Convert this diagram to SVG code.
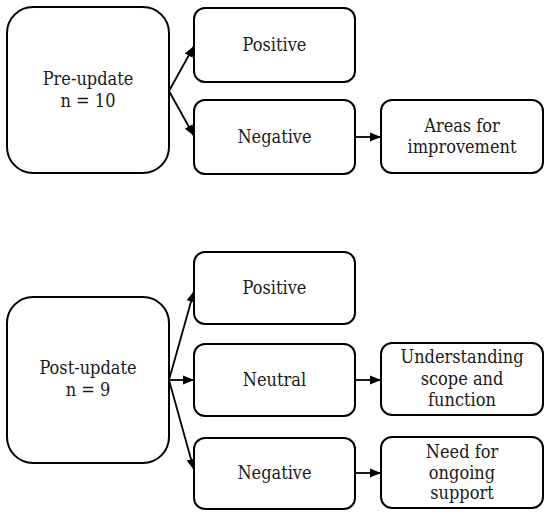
<svg xmlns="http://www.w3.org/2000/svg" width="550" height="516" viewBox="0 0 550 516">
<style>
.box{fill:#fff;stroke:#000;stroke-width:2}
.t{font-family:'DejaVu Serif Condensed','DejaVu Serif',serif;font-size:18px;fill:#1a1a1a;text-anchor:middle}
.c{stroke:#000;stroke-width:1.8;fill:none;marker-end:url(#ah)}
</style>
<defs>
<marker id="ah" viewBox="0 0 11 10" refX="11" refY="5" markerWidth="11" markerHeight="10" markerUnits="userSpaceOnUse" orient="auto">
<path d="M0,0.5 L11,5 L0,9.5 Z" fill="#000"/>
</marker>
</defs>
<rect width="550" height="516" fill="#fff"/>
<g id="connectors">
<line class="c" x1="169" y1="91" x2="194" y2="46"/>
<line class="c" x1="169" y1="91" x2="194" y2="136"/>
<line class="c" x1="355" y1="137" x2="381" y2="137"/>
<line class="c" x1="169" y1="380" x2="194" y2="291"/>
<line class="c" x1="169" y1="380" x2="194" y2="380"/>
<line class="c" x1="169" y1="380" x2="194" y2="470"/>
<line class="c" x1="355" y1="380" x2="381" y2="380"/>
<line class="c" x1="355" y1="473" x2="381" y2="473"/>
</g>
<g id="pre-update">
<rect class="box" x="7" y="7" width="162" height="166" rx="26"/>
<text class="t" x="88" y="85">Pre-update</text>
<text class="t" x="88" y="107">n = 10</text>
</g>
<g id="pre-positive">
<rect class="box" x="194" y="8" width="161" height="74" rx="11"/>
<text class="t" x="274.5" y="51">Positive</text>
</g>
<g id="pre-negative">
<rect class="box" x="194" y="100" width="161" height="74" rx="11"/>
<text class="t" x="274.5" y="143">Negative</text>
</g>
<g id="areas">
<rect class="box" x="381" y="100" width="162" height="73" rx="11"/>
<text class="t" x="462" y="132">Areas for</text>
<text class="t" x="462" y="153">improvement</text>
</g>
<g id="post-update">
<rect class="box" x="7" y="297" width="162" height="166" rx="26"/>
<text class="t" x="88" y="374">Post-update</text>
<text class="t" x="88" y="396">n = 9</text>
</g>
<g id="post-positive">
<rect class="box" x="194" y="252" width="161" height="72" rx="11"/>
<text class="t" x="274.5" y="294">Positive</text>
</g>
<g id="post-neutral">
<rect class="box" x="194" y="344" width="161" height="72" rx="11"/>
<text class="t" x="274.5" y="386">Neutral</text>
</g>
<g id="post-negative">
<rect class="box" x="194" y="438" width="161" height="71" rx="11"/>
<text class="t" x="274.5" y="479">Negative</text>
</g>
<g id="understanding">
<rect class="box" x="381" y="343" width="162" height="72" rx="11"/>
<text class="t" x="462" y="363">Understanding</text>
<text class="t" x="462" y="385">scope and</text>
<text class="t" x="462" y="406">function</text>
</g>
<g id="need">
<rect class="box" x="381" y="437" width="162" height="71" rx="11"/>
<text class="t" x="462" y="458">Need for</text>
<text class="t" x="462" y="479">ongoing</text>
<text class="t" x="462" y="499">support</text>
</g>
</svg>
